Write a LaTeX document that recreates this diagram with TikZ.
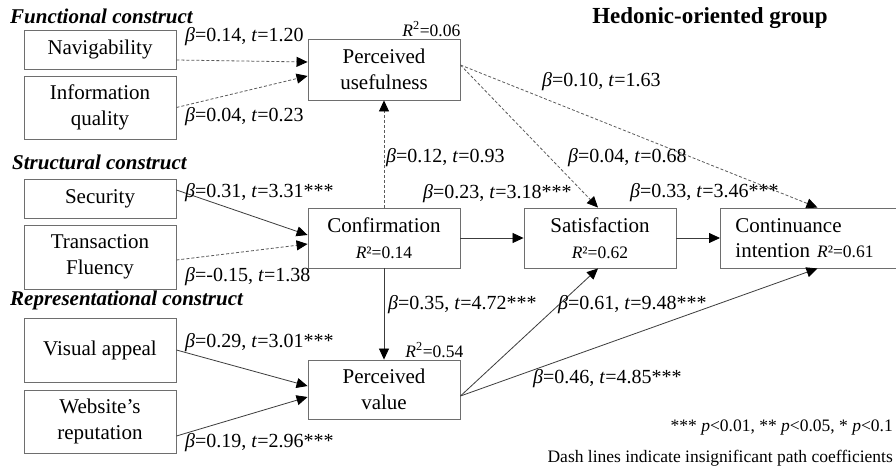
\documentclass[tikz,border=0pt]{standalone}
\usepackage{fontspec}
\setmainfont{Liberation Serif}
\usetikzlibrary{arrows.meta}
\definecolor{boxline}{HTML}{6E6E6E}
\definecolor{pathline}{HTML}{3C3C3C}
\definecolor{nspath}{HTML}{5A5A5A}
\newcommand\pathcoef[2]{\textit{β}=#1, \textit{t}=#2}
\newcommand\rsqfont{\fontsize{17.5}{20}\selectfont}
\newcommand\Rsup{\textit{R}\textsuperscript{2}}
\tikzset{
  construct/.style={draw=boxline, line width=0.9pt, inner sep=0pt, align=center,
    minimum width=152pt, font=\fontsize{21}{25.5}\selectfont},
  sig/.style={draw=pathline, line width=0.8pt,
    -{Triangle[length=11pt,width=10pt,color=black]}},
  nsig/.style={sig, draw=nspath, dash pattern=on 3pt off 2pt},
  coef/.style={anchor=west, inner sep=0pt, font=\fontsize{20}{24}\selectfont},
  rsq/.style={inner sep=0pt, font=\rsqfont},
  heading/.style={anchor=west, inner sep=0pt, font=\fontsize{21}{25}\selectfont\bfseries\itshape},
  note/.style={anchor=east, inner sep=0pt, font=\fontsize{17.5}{20}\selectfont}
}
\begin{document}
\begin{tikzpicture}[x=1pt, y=-1pt]
  \useasboundingbox (0,0) rectangle (896,468);
  \fill[white] (0,0) rectangle (896,468);

  % headings
  \node[inner sep=0pt, font=\fontsize{23}{27}\selectfont\bfseries] (title) at (710,18) {Hedonic-oriented group};
  \node[heading] (hfun) at (10,16) {Functional construct};
  \node[heading] (hstr) at (12,162) {Structural construct};
  \node[heading] (hrep) at (10,300) {Representational construct};

  % antecedent constructs
  \node[construct, minimum height=39pt] (nav) at (100,49.5) {Navigability};
  \node[construct, minimum height=63pt] (iq)  at (100,107.5) {Information\\quality};
  \node[construct, minimum height=39pt] (sec) at (100,198.5) {Security};
  \node[construct, minimum height=64pt] (tf)  at (100,257) {Transaction\\Fluency};
  \node[construct, minimum height=64pt] (va)  at (100,350) {Visual appeal};
  \node[construct, minimum height=63pt] (wr)  at (100,421.5) {Website’s\\reputation};

  % model constructs
  \node[construct, minimum height=61pt] (pu)   at (384,69.5) {Perceived\\usefulness};
  \node[construct, minimum height=60pt] (conf) at (384,238) {Confirmation\\{\rsqfont\textit{R}²=0.14}};
  \node[construct, minimum height=59pt] (pv)   at (384,389.5) {Perceived\\value};
  \node[construct, minimum height=60pt] (sat)  at (600,238) {Satisfaction\\{\rsqfont\textit{R}²=0.62}};
  \node[construct, minimum height=60pt, minimum width=0pt, anchor=west, text width=150pt,
        inner xsep=15pt, align=left] (ci) at (720,238)
        {Continuance\\intention {\rsqfont\textit{R}²=0.61}};

  % explained variance above boxes
  \node[rsq, anchor=south east] (pur2) at ([yshift=2pt]pu.north east) {\Rsup=0.06};
  \node[rsq, anchor=south east] (pvr2) at ([xshift=3pt,yshift=2pt]pv.north east) {\Rsup=0.54};

  % paths
  \draw[nsig] ([yshift=-10.5pt]nav.east) -- ([yshift=7.5pt]pu.west);
  \draw[nsig] (iq.east) -- ([yshift=-6.5pt]pu.west);
  \draw[sig]  ([yshift=8.5pt]sec.east) -- ([yshift=3pt]conf.west);
  \draw[nsig] ([yshift=-3pt]tf.east) -- ([yshift=-6pt]conf.west);
  \draw[sig]  (va.east) -- ([yshift=3.5pt]pv.west);
  \draw[sig]  ([yshift=-14.5pt]wr.east) -- ([yshift=-7.5pt]pv.west);
  \draw[nsig] (conf.north) -- (pu.south);
  \draw[sig]  (conf.south) -- (pv.north);
  \draw[sig]  (conf.east) -- (sat.west);
  \draw[sig]  (sat.east) -- (ci.west);
  \coordinate (puout) at ([yshift=4.5pt]pu.east);
  \coordinate (pvout) at ([yshift=-6.5pt]pv.east);
  \draw[nsig] (puout) -- ([xshift=-2pt]sat.north);
  \draw[nsig] (puout) -- ([xshift=7pt]ci.north);
  \draw[sig]  (pvout) -- ([xshift=-2pt]sat.south);
  \draw[sig]  (pvout) -- ([xshift=7pt]ci.south);

  % path coefficients
  \node[coef] (c1)  at (185,37)  {\pathcoef{0.14}{1.20}};
  \node[coef] (c2)  at (185,117) {\pathcoef{0.04}{0.23}};
  \node[coef] (c3)  at (542,82)  {\pathcoef{0.10}{1.63}};
  \node[coef] (c4)  at (386,158) {\pathcoef{0.12}{0.93}};
  \node[coef] (c5)  at (568,158) {\pathcoef{0.04}{0.68}};
  \node[coef] (c6)  at (423,194) {\pathcoef{0.23}{3.18***}};
  \node[coef] (c7)  at (630,193) {\pathcoef{0.33}{3.46***}};
  \node[coef] (c8)  at (185,193) {\pathcoef{0.31}{3.31***}};
  \node[coef] (c9)  at (185,277) {\pathcoef{-0.15}{1.38}};
  \node[coef] (c10) at (388,305) {\pathcoef{0.35}{4.72***}};
  \node[coef] (c11) at (558,305) {\pathcoef{0.61}{9.48***}};
  \node[coef] (c12) at (185,343) {\pathcoef{0.29}{3.01***}};
  \node[coef] (c13) at (185,443) {\pathcoef{0.19}{2.96***}};
  \node[coef] (c14) at (533,379) {\pathcoef{0.46}{4.85***}};

  % notes
  \node[note] (n1) at (893,428) {*** \textit{p}<0.01, ** \textit{p}<0.05, * \textit{p}<0.1};
  \node[note] (n2) at (893,458) {Dash lines indicate insignificant path coefficients};
\end{tikzpicture}
\end{document}
